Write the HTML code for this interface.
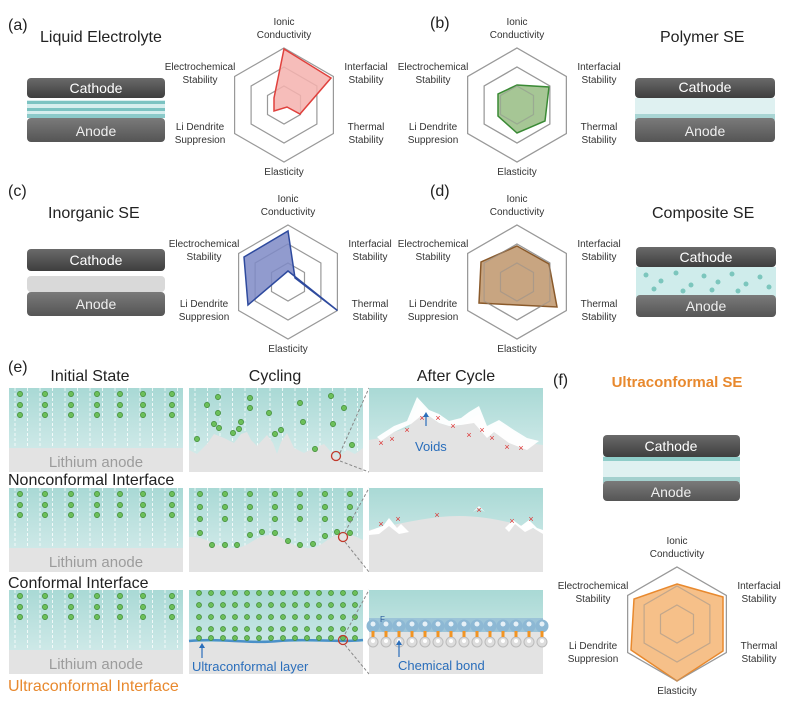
<!DOCTYPE html>
<html><head><meta charset="utf-8"><style>
html,body{margin:0;padding:0;background:#fff}
svg{display:block;font-family:"Liberation Sans",Arial,sans-serif}
.lb{font-size:10px;fill:#333;text-anchor:middle}
.tt{font-size:16px;fill:#222}
.hx{fill:none;stroke:#999;stroke-width:1.2}
</style></head><body>
<svg width="787" height="709" viewBox="0 0 787 709" xmlns="http://www.w3.org/2000/svg">
<defs>
<linearGradient id="tg" x1="0" y1="0" x2="0" y2="1"><stop offset="0" stop-color="#a9d9d5"/><stop offset="1" stop-color="#dcefef"/></linearGradient>
<linearGradient id="cg" x1="0" y1="0" x2="0" y2="1"><stop offset="0" stop-color="#6a6a6a"/><stop offset="1" stop-color="#3e3e3e"/></linearGradient>
<linearGradient id="ag" x1="0" y1="0" x2="0" y2="1"><stop offset="0" stop-color="#7a7a7a"/><stop offset="1" stop-color="#555"/></linearGradient>
<pattern id="dl" width="12.5" height="89" patternUnits="userSpaceOnUse"><line x1="6" y1="0" x2="6" y2="89" stroke="#fff" stroke-width="0.9" stroke-dasharray="3,2" opacity=".85"/></pattern>
<g id="hexes">
<polygon class="hx" points="0,-57 49.4,-28.5 49.4,28.5 0,57 -49.4,28.5 -49.4,-28.5"/>
<polygon class="hx" points="0,-38 32.9,-19 32.9,19 0,38 -32.9,19 -32.9,-19"/>
<polygon class="hx" points="0,-19 16.5,-9.5 16.5,9.5 0,19 -16.5,9.5 -16.5,-9.5"/>
</g>
<g id="labels">
<text class="lb" x="0" y="-80">Ionic</text><text class="lb" x="0" y="-67">Conductivity</text>
<text class="lb" x="-84" y="-35">Electrochemical</text><text class="lb" x="-84" y="-22">Stability</text>
<text class="lb" x="82" y="-35">Interfacial</text><text class="lb" x="82" y="-22">Stability</text>
<text class="lb" x="82" y="25">Thermal</text><text class="lb" x="82" y="38">Stability</text>
<text class="lb" x="-84" y="25">Li Dendrite</text><text class="lb" x="-84" y="38">Suppresion</text>
<text class="lb" x="0" y="70">Elasticity</text>
</g>
<g id="dots1" fill="#6cbf5a" stroke="#3f8a36" stroke-width=".7">
<circle cx="11" cy="6" r="2.6"/><circle cx="11" cy="17" r="2.6"/><circle cx="11" cy="27" r="2.6"/>
<circle cx="36" cy="6" r="2.6"/><circle cx="36" cy="17" r="2.6"/><circle cx="36" cy="27" r="2.6"/>
<circle cx="62" cy="6" r="2.6"/><circle cx="62" cy="17" r="2.6"/><circle cx="62" cy="27" r="2.6"/>
<circle cx="88" cy="6" r="2.6"/><circle cx="88" cy="17" r="2.6"/><circle cx="88" cy="27" r="2.6"/>
<circle cx="111" cy="6" r="2.6"/><circle cx="111" cy="17" r="2.6"/><circle cx="111" cy="27" r="2.6"/>
<circle cx="134" cy="6" r="2.6"/><circle cx="134" cy="17" r="2.6"/><circle cx="134" cy="27" r="2.6"/>
<circle cx="163" cy="6" r="2.6"/><circle cx="163" cy="17" r="2.6"/><circle cx="163" cy="27" r="2.6"/>
</g>
<g id="init">
<rect width="174" height="84" fill="url(#tg)"/>
<rect width="174" height="60" fill="url(#dl)"/>
<rect y="60" width="174" height="24" fill="#e3e3e3"/>
<use href="#dots1"/>
<text x="87" y="79" text-anchor="middle" font-size="15" fill="#9c9c9c">Lithium anode</text>
</g>
</defs>

<text x="8" y="30" font-size="16" fill="#222">(a)</text>
<text x="40" y="42" class="tt">Liquid Electrolyte</text>
<g transform="translate(27,78)">
<rect x="0" y="22" width="138" height="14" fill="#d6eeee"/>
<rect x="0" y="23" width="138" height="3" fill="#7cc3c2"/>
<rect x="0" y="30" width="138" height="3" fill="#7cc3c2"/>
<rect x="0" y="36" width="138" height="4" fill="#8ccaca"/>
<rect x="0" y="40" width="138" height="24" rx="4" fill="url(#ag)"/>
<rect x="0" y="0" width="138" height="20" rx="4" fill="url(#cg)"/>
<text x="69" y="15" text-anchor="middle" font-size="14" fill="#fff">Cathode</text>
<text x="69" y="58" text-anchor="middle" font-size="14" fill="#eee">Anode</text>
</g>
<g transform="translate(284,105)">
<use href="#hexes"/>
<polygon points="0,-56 47,-27 16,9 3,2 -10,6 -10,-7" fill="#f4b1ae" fill-opacity=".85" stroke="#e0413d" stroke-width="1.5"/>
<use href="#labels"/>
</g>

<text x="430" y="28" font-size="16" fill="#222">(b)</text>
<text x="660" y="42" class="tt">Polymer SE</text>
<g transform="translate(517,105)">
<use href="#hexes"/>
<polygon points="0,-20 32,-18 28,16 0,28 -19,11 -19,-11" fill="#9cc08a" fill-opacity=".9" stroke="#3a8a35" stroke-width="1.5"/>
<use href="#hexes" opacity=".5"/>
<use href="#labels"/>
</g>
<g transform="translate(635,78)">
<rect x="0" y="20" width="140" height="20" fill="#dff1f1"/>
<rect x="0" y="36" width="140" height="6" fill="#a9d5d4"/>
<rect x="0" y="40" width="140" height="24" rx="4" fill="url(#ag)"/>
<rect x="0" y="0" width="140" height="20" rx="4" fill="url(#cg)"/>
<text x="70" y="14" text-anchor="middle" font-size="14" fill="#fff">Cathode</text>
<text x="70" y="58" text-anchor="middle" font-size="14" fill="#eee">Anode</text>
</g>

<text x="8" y="196" font-size="16" fill="#222">(c)</text>
<text x="48" y="218" class="tt">Inorganic SE</text>
<g transform="translate(27,249)">
<rect x="0" y="43" width="138" height="24" rx="4" fill="url(#ag)"/>
<rect x="0" y="27" width="138" height="16" rx="4" fill="#d9d9d9"/>
<rect x="0" y="0" width="138" height="22" rx="4" fill="url(#cg)"/>
<text x="69" y="16" text-anchor="middle" font-size="14" fill="#fff">Cathode</text>
<text x="69" y="60" text-anchor="middle" font-size="14" fill="#eee">Anode</text>
</g>
<g transform="translate(288,282)">
<use href="#hexes"/>
<polygon points="0,-51 7,-4 49.4,28.5 0,-11 -40,23 -44,-25" fill="#7e89c6" fill-opacity=".85" stroke="#2e4a9e" stroke-width="1.5"/>
<use href="#labels"/>
</g>

<text x="430" y="196" font-size="16" fill="#222">(d)</text>
<text x="652" y="218" class="tt">Composite SE</text>
<g transform="translate(517,282)">
<use href="#hexes"/>
<polygon points="0,-36 32,-18 40,25 0,23 -38,21 -36,-20" fill="#c29b73" fill-opacity=".9" stroke="#8a5a2b" stroke-width="1.5"/>
<use href="#hexes" opacity=".5"/>
<use href="#labels"/>
</g>
<g transform="translate(636,247)">
<rect x="0" y="20" width="140" height="30" fill="#cfeceb"/>
<g fill="#7cc6bd"><circle cx="10" cy="28" r="2.5"/><circle cx="25" cy="34" r="2.5"/><circle cx="40" cy="26" r="2.5"/><circle cx="55" cy="38" r="2.5"/><circle cx="68" cy="29" r="2.5"/><circle cx="82" cy="35" r="2.5"/><circle cx="96" cy="27" r="2.5"/><circle cx="110" cy="37" r="2.5"/><circle cx="124" cy="30" r="2.5"/><circle cx="133" cy="40" r="2.5"/><circle cx="18" cy="42" r="2.5"/><circle cx="47" cy="44" r="2.5"/><circle cx="76" cy="43" r="2.5"/><circle cx="102" cy="44" r="2.5"/></g>
<rect x="0" y="48" width="140" height="22" rx="4" fill="url(#ag)"/>
<rect x="0" y="0" width="140" height="20" rx="4" fill="url(#cg)"/>
<text x="70" y="15" text-anchor="middle" font-size="14" fill="#fff">Cathode</text>
<text x="70" y="64" text-anchor="middle" font-size="14" fill="#eee">Anode</text>
</g>

<text x="8" y="372" font-size="16" fill="#222">(e)</text>
<text x="90" y="381" text-anchor="middle" class="tt">Initial State</text>
<text x="275" y="381" text-anchor="middle" class="tt">Cycling</text>
<text x="456" y="381" text-anchor="middle" class="tt">After Cycle</text>

<use href="#init" x="9" y="388"/>
<use href="#init" x="9" y="488"/>
<use href="#init" x="9" y="590"/>

<text x="8" y="485" class="tt" fill="#111">Nonconformal Interface</text>
<text x="8" y="588" class="tt" fill="#111">Conformal Interface</text>
<text x="8" y="691" class="tt" style="fill:#e8892e">Ultraconformal Interface</text>

<g transform="translate(189,388)">
<rect width="174" height="84" fill="url(#tg)"/>
<rect width="174" height="70" fill="url(#dl)"/>
<polygon points="0,62 8,66 18,56 25,46 35,50 45,55 52,46 58,44 62,52 68,58 78,47 84,55 88,66 92,54 98,45 105,60 115,65 125,60 135,56 142,64 150,70 158,62 166,66 174,60 174,84 0,84" fill="#e3e3e3"/>
<g fill="#6cbf5a" stroke="#3f8a36" stroke-width=".7">
<circle cx="18" cy="17" r="2.6"/><circle cx="29" cy="9" r="2.6"/><circle cx="29" cy="25" r="2.6"/><circle cx="25" cy="36" r="2.6"/><circle cx="30" cy="40" r="2.6"/><circle cx="8" cy="51" r="2.6"/><circle cx="44" cy="45" r="2.6"/><circle cx="50" cy="41" r="2.6"/><circle cx="52" cy="34" r="2.6"/><circle cx="61" cy="10" r="2.6"/><circle cx="61" cy="20" r="2.6"/><circle cx="80" cy="25" r="2.6"/><circle cx="86" cy="46" r="2.6"/><circle cx="92" cy="42" r="2.6"/><circle cx="111" cy="15" r="2.6"/><circle cx="114" cy="34" r="2.6"/><circle cx="126" cy="61" r="2.6"/><circle cx="142" cy="8" r="2.6"/><circle cx="144" cy="36" r="2.6"/><circle cx="155" cy="20" r="2.6"/><circle cx="163" cy="57" r="2.6"/>
</g>
<circle cx="147" cy="68" r="4.5" fill="none" stroke="#c0392b" stroke-width="1.3"/>
</g>
<line x1="340" y1="453" x2="369" y2="388" stroke="#888" stroke-dasharray="3,2"/>
<line x1="340" y1="461" x2="369" y2="472" stroke="#888" stroke-dasharray="3,2"/>

<g transform="translate(369,388)">
<rect width="174" height="84" fill="url(#tg)"/>
<polygon points="0,52 12,50 25,44 40,40 50,13 60,28 70,35 80,38 92,37 110,26 120,42 125,36 140,40 158,55 174,57 174,84 0,84" fill="#e3e3e3"/>
<polygon points="8,49 25,38 38,33 48,9 60,22 70,26 80,33 92,30 100,24 110,18 118,38 130,32 145,42 158,50 170,53 158,62 140,55 125,44 118,50 105,35 92,37 80,38 70,35 60,28 52,28 42,36 25,44 12,53" fill="#fff" opacity=".95"/>
<g fill="#d33" font-size="9" text-anchor="middle"><text x="12" y="58">×</text><text x="23" y="54">×</text><text x="38" y="45">×</text><text x="53" y="33">×</text><text x="69" y="33">×</text><text x="84" y="41">×</text><text x="100" y="50">×</text><text x="113" y="45">×</text><text x="123" y="53">×</text><text x="138" y="62">×</text><text x="152" y="63">×</text></g>
<line x1="57" y1="38" x2="57" y2="28" stroke="#2a6ebb" stroke-width="1.2"/><polygon points="54,29 60,29 57,24" fill="#2a6ebb"/>
<text x="46" y="63" font-size="13" fill="#2a6ebb">Voids</text>
</g>

<g transform="translate(189,488)">
<rect width="174" height="84" fill="url(#tg)"/>
<rect width="174" height="60" fill="url(#dl)"/>
<path d="M0,49 C20,48 25,60 45,60 C60,60 65,48 80,47 C95,46 100,60 120,60 C135,60 140,45 155,46 C165,47 170,50 174,52 L174,84 L0,84Z" fill="#e3e3e3"/>
<g fill="#6cbf5a" stroke="#3f8a36" stroke-width=".7">
<circle cx="11" cy="6" r="2.6"/><circle cx="11" cy="19" r="2.6"/><circle cx="11" cy="31" r="2.6"/><circle cx="11" cy="45" r="2.6"/>
<circle cx="36" cy="6" r="2.6"/><circle cx="36" cy="19" r="2.6"/><circle cx="36" cy="31" r="2.6"/><circle cx="23" cy="57" r="2.6"/><circle cx="36" cy="57" r="2.6"/><circle cx="48" cy="57" r="2.6"/>
<circle cx="61" cy="6" r="2.6"/><circle cx="61" cy="19" r="2.6"/><circle cx="61" cy="31" r="2.6"/><circle cx="61" cy="47" r="2.6"/><circle cx="73" cy="44" r="2.6"/>
<circle cx="86" cy="6" r="2.6"/><circle cx="86" cy="19" r="2.6"/><circle cx="86" cy="31" r="2.6"/><circle cx="86" cy="45" r="2.6"/><circle cx="99" cy="53" r="2.6"/>
<circle cx="111" cy="6" r="2.6"/><circle cx="111" cy="19" r="2.6"/><circle cx="111" cy="31" r="2.6"/><circle cx="111" cy="57" r="2.6"/><circle cx="124" cy="56" r="2.6"/>
<circle cx="136" cy="6" r="2.6"/><circle cx="136" cy="19" r="2.6"/><circle cx="136" cy="31" r="2.6"/><circle cx="136" cy="48" r="2.6"/>
<circle cx="161" cy="6" r="2.6"/><circle cx="161" cy="19" r="2.6"/><circle cx="161" cy="31" r="2.6"/><circle cx="148" cy="44" r="2.6"/><circle cx="161" cy="45" r="2.6"/>
</g>
<circle cx="154" cy="49" r="4.5" fill="none" stroke="#c0392b" stroke-width="1.3"/>
</g>
<line x1="345" y1="532" x2="369" y2="488" stroke="#888" stroke-dasharray="3,2"/>
<line x1="345" y1="542" x2="369" y2="572" stroke="#888" stroke-dasharray="3,2"/>

<g transform="translate(369,488)">
<rect width="174" height="84" fill="url(#tg)"/>
<path d="M0,42 C30,36 60,28 90,28 C120,28 150,36 174,44 L174,84 L0,84Z" fill="#e3e3e3"/>
<path d="M0,43 L8,40 L14,38 L20,30 L28,40 L32,36 L40,44 L30,46 L20,38 L10,46 L0,47Z" fill="#fff"/>
<path d="M104,24 L110,18 L116,24 L110,20Z M136,40 L144,32 L152,38 L160,32 L168,40 L174,42 L174,46 L164,40 L156,44 L146,36 L140,44Z" fill="#fff"/>
<g fill="#d33" font-size="9" text-anchor="middle"><text x="12" y="39">×</text><text x="29" y="34">×</text><text x="68" y="30">×</text><text x="110" y="25">×</text><text x="143" y="36">×</text><text x="162" y="34">×</text></g>
</g>

<g transform="translate(189,590)">
<rect width="174" height="84" fill="url(#tg)"/>
<rect y="52" width="174" height="32" fill="#e3e3e3"/>
<path d="M0,51 C30,48 60,54 90,51 C120,48 150,53 174,50" fill="none" stroke="#4a90c8" stroke-width="2.5"/>
<g fill="#6cbf5a" stroke="#3f8a36" stroke-width=".7">
<g id="drow"><circle cx="10" cy="3" r="2.5"/><circle cx="22" cy="3" r="2.5"/><circle cx="34" cy="3" r="2.5"/><circle cx="46" cy="3" r="2.5"/><circle cx="58" cy="3" r="2.5"/><circle cx="70" cy="3" r="2.5"/><circle cx="82" cy="3" r="2.5"/><circle cx="94" cy="3" r="2.5"/><circle cx="106" cy="3" r="2.5"/><circle cx="118" cy="3" r="2.5"/><circle cx="130" cy="3" r="2.5"/><circle cx="142" cy="3" r="2.5"/><circle cx="154" cy="3" r="2.5"/><circle cx="166" cy="3" r="2.5"/></g>
<use href="#drow" y="12"/><use href="#drow" y="24"/><use href="#drow" y="36"/><use href="#drow" y="45"/>
</g>
<circle cx="154" cy="50" r="4.5" fill="none" stroke="#c0392b" stroke-width="1.3"/>
<line x1="13" y1="68" x2="13" y2="57" stroke="#2a6ebb" stroke-width="1.2"/><polygon points="10,58 16,58 13,53" fill="#2a6ebb"/>
<text x="3" y="81" font-size="13" fill="#2a6ebb">Ultraconformal layer</text>
</g>
<line x1="345" y1="634" x2="369" y2="590" stroke="#888" stroke-dasharray="3,2"/>
<line x1="345" y1="645" x2="369" y2="674" stroke="#888" stroke-dasharray="3,2"/>

<g transform="translate(369,590)">
<rect width="174" height="84" fill="url(#tg)"/>
<rect y="40" width="174" height="44" fill="#e3e3e3"/>
<rect y="28" width="174" height="14" fill="#9cc4d8"/>
<g id="bs"><circle cx="4" cy="36" r="6.5" fill="#8db8d4"/><circle cx="4" cy="34" r="2.5" fill="#e6f0f7"/><circle cx="4" cy="52" r="5" fill="#ddd" stroke="#bbb"/><circle cx="4" cy="51" r="2" fill="#fff"/><rect x="2.5" y="41" width="3" height="6" fill="#f29423"/></g>
<use href="#bs" x="13"/><use href="#bs" x="26"/><use href="#bs" x="39"/><use href="#bs" x="52"/><use href="#bs" x="65"/><use href="#bs" x="78"/><use href="#bs" x="91"/><use href="#bs" x="104"/><use href="#bs" x="117"/><use href="#bs" x="130"/><use href="#bs" x="143"/><use href="#bs" x="156"/><use href="#bs" x="169"/>
<text x="11" y="32" font-size="8" fill="#2a5a9b">F</text>
<line x1="30" y1="67" x2="30" y2="54" stroke="#2a6ebb" stroke-width="1.2"/><polygon points="27,55 33,55 30,50" fill="#2a6ebb"/>
<text x="29" y="80" font-size="13" fill="#2a6ebb">Chemical bond</text>
</g>

<text x="553" y="385" font-size="16" fill="#222">(f)</text>
<text x="677" y="387" text-anchor="middle" font-size="15" font-weight="bold" fill="#e8892e">Ultraconformal SE</text>
<g transform="translate(603,435)">
<rect x="0" y="20" width="137" height="28" fill="#dff1f1"/>
<rect x="0" y="22" width="137" height="4" fill="#8fcdc9"/>
<rect x="0" y="42" width="137" height="6" fill="#a3d0ce"/>
<rect x="0" y="46" width="137" height="20" rx="4" fill="url(#ag)"/>
<rect x="0" y="0" width="137" height="22" rx="4" fill="url(#cg)"/>
<text x="68" y="16" text-anchor="middle" font-size="14" fill="#fff">Cathode</text>
<text x="68" y="62" text-anchor="middle" font-size="14" fill="#eee">Anode</text>
</g>
<g transform="translate(677,624)">
<use href="#hexes"/>
<polygon points="0,-40 46,-27 46,27 0,57 -46,26 -43,-25" fill="#f5b97c" fill-opacity=".9" stroke="#e8892e" stroke-width="1.5"/>
<use href="#hexes" opacity=".5"/>
<use href="#labels"/>
</g>
</svg>
</body></html>
